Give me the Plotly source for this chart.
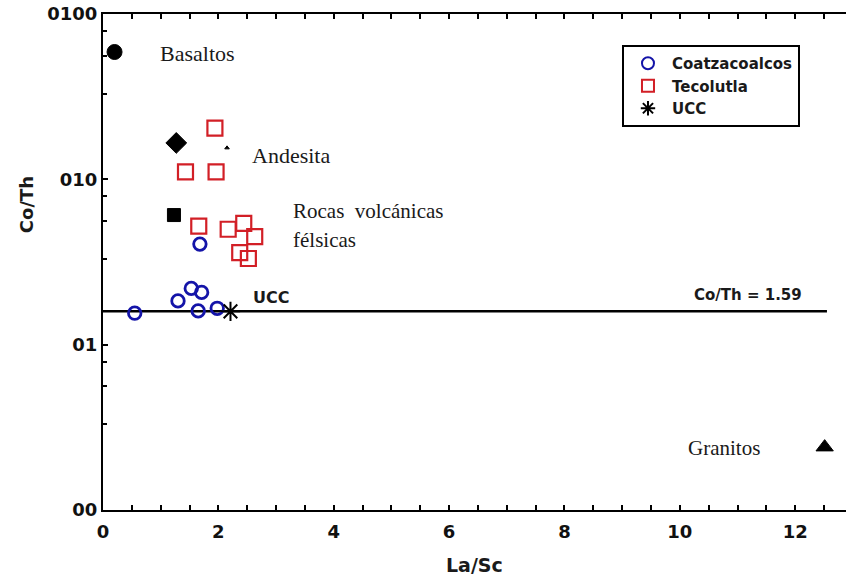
import math
import plotly.graph_objects as go

# ---------------- data ----------------
coatza_x = [0.55, 1.30, 1.53, 1.71, 1.65, 1.98, 1.68]
coatza_y = [1.55, 1.84, 2.19, 2.07, 1.60, 1.66, 4.06]

teco_x = [1.94, 1.43, 1.96, 1.66, 2.17, 2.44, 2.63, 2.37, 2.52]
teco_y = [20.4, 11.1, 11.1, 5.21, 4.99, 5.42, 4.50, 3.60, 3.32]

ucc_x = [2.21]
ucc_y = [1.59]

ref_names = ["Basaltos", "Andesita", "Andesita (punto)", "Rocas volcánicas félsicas", "Granitos"]
ref_x = [0.20, 1.27, 2.15, 1.23, 12.51]
ref_y = [58.9, 16.6, 15.5, 6.08, 0.240]
ref_symbols = ["circle", "diamond", "triangle-up", "square", "triangle-up"]
ref_sizes = [15, 16, 4, 13, 15]

ucc_line_value = 1.59
ucc_line_x = [0, 12.55]

x_tick_values = [0, 2, 4, 6, 8, 10, 12]
x_tick_labels = ["0", "2", "4", "6", "8", "10", "12"]
y_tick_values = [0.1, 1, 10, 100]
y_tick_labels = ["00", "01", "010", "0100"]
y_minor_values = [0.33, 0.56, 0.79, 3.3, 5.6, 7.9, 33, 56, 79]

# ---------------- figure ----------------
BOLD = "DejaVu Sans"
SERIF = "Liberation Serif"
TXT = "#1a1a1a"

fig = go.Figure()

# UCC horizontal line
fig.add_trace(go.Scatter(
    x=ucc_line_x, y=[ucc_line_value] * len(ucc_line_x), mode="lines",
    line=dict(color="black", width=2.5), showlegend=False, hoverinfo="skip"))

# reference rock markers
fig.add_trace(go.Scatter(
    x=ref_x, y=ref_y, mode="markers", text=ref_names, showlegend=False,
    opacity=1,
    marker=dict(symbol=ref_symbols, size=ref_sizes, color="#000000", opacity=1,
                line=dict(width=1, color="#000000"))))

fig.add_trace(go.Scatter(
    x=coatza_x, y=coatza_y, mode="markers", name="Coatzacoalcos",
    marker=dict(symbol="circle-open", size=12.5, color="#1414a8",
                line=dict(width=2.8, color="#1414a8"))))

fig.add_trace(go.Scatter(
    x=teco_x, y=teco_y, mode="markers", name="Tecolutla",
    marker=dict(symbol="square-open", size=15, color="#d21f26",
                line=dict(width=2.2, color="#d21f26"))))

fig.add_trace(go.Scatter(
    x=ucc_x, y=ucc_y, mode="markers", name="UCC",
    marker=dict(symbol="asterisk-open", size=16, color="black",
                line=dict(width=2, color="black"))))

annotations = [
    dict(text="Basaltos", x=0.95, y=58, font=dict(family=SERIF, size=22)),
    dict(text="Andesita", x=2.55, y=14.0, font=dict(family=SERIF, size=22)),
    dict(text="Rocas  volcánicas", x=3.26, y=6.43, font=dict(family=SERIF, size=21)),
    dict(text="félsicas", x=3.26, y=4.30, font=dict(family=SERIF, size=21)),
    dict(text="Granitos", x=10.10, y=0.237, font=dict(family=SERIF, size=21)),
    dict(text="UCC", x=2.56, y=1.94, font=dict(family=BOLD, size=16, weight="bold")),
    dict(text="Co/Th = 1.59", x=10.21, y=2.0, font=dict(family=BOLD, size=15, weight="bold")),
]
anns = []
for a in annotations:
    a = dict(a)
    a["y"] = math.log10(a["y"])
    a.update(xref="x", yref="y", xanchor="left", yanchor="middle",
             showarrow=False, font=dict(color=TXT, **a["font"]))
    anns.append(a)

# axis titles
anns.append(dict(text="La/Sc", xref="paper", yref="paper", x=0.5, y=-0.111,
                 xanchor="center", yanchor="middle", showarrow=False,
                 font=dict(family=BOLD, size=19, color=TXT, weight="bold")))
anns.append(dict(text="Co/Th", xref="paper", yref="paper", x=-0.102, y=0.615,
                 xanchor="center", yanchor="middle", showarrow=False, textangle=-90,
                 font=dict(family=BOLD, size=18, color=TXT, weight="bold")))

fig.update_layout(
    width=846, height=582,
    margin=dict(l=103, r=0, t=14, b=72),
    paper_bgcolor="white", plot_bgcolor="white",
    showlegend=True,
    legend=dict(x=0.6985, y=0.9375, xanchor="left", yanchor="top",
                bordercolor="black", borderwidth=2, bgcolor="white",
                font=dict(family=BOLD, size=15, color=TXT, weight="bold"),
                itemsizing="constant", tracegroupgap=0, itemwidth=38),
    annotations=anns,
    font=dict(family=BOLD, color="black"),
)

x_all_ticks = [i * 0.5 for i in range(0, 26)]
x_all_text = [x_tick_labels[x_tick_values.index(v)] if v in x_tick_values else "" for v in x_all_ticks]

fig.update_xaxes(
    range=[0, 12.88], showgrid=False, zeroline=False,
    showline=True, linecolor="black", linewidth=2, mirror="ticks",
    ticks="inside", ticklen=5, tickwidth=2, tickcolor="black",
    tickmode="array", tickvals=x_all_ticks, ticktext=x_all_text,
    ticklabelstandoff=4,
    tickfont=dict(family=BOLD, size=18, color="#111111", weight="bold"),
)
fig.update_yaxes(
    type="log", range=[-1, 2], showgrid=False, zeroline=False,
    showline=True, linecolor="black", linewidth=2, mirror=False,
    ticks="inside", ticklen=5, tickwidth=2, tickcolor="black",
    tickmode="array", tickvals=y_tick_values, ticktext=y_tick_labels,
    tickfont=dict(family=BOLD, size=18, color="#111111", weight="bold"),
    minor=dict(tickmode="array", tickvals=y_minor_values, ticks="inside",
               ticklen=4, tickwidth=2, tickcolor="black", showgrid=False),
)

fig.write_html("out.html", config={"displayModeBar": False},
               post_script="document.body.style.margin='0';document.body.style.padding='0';")
